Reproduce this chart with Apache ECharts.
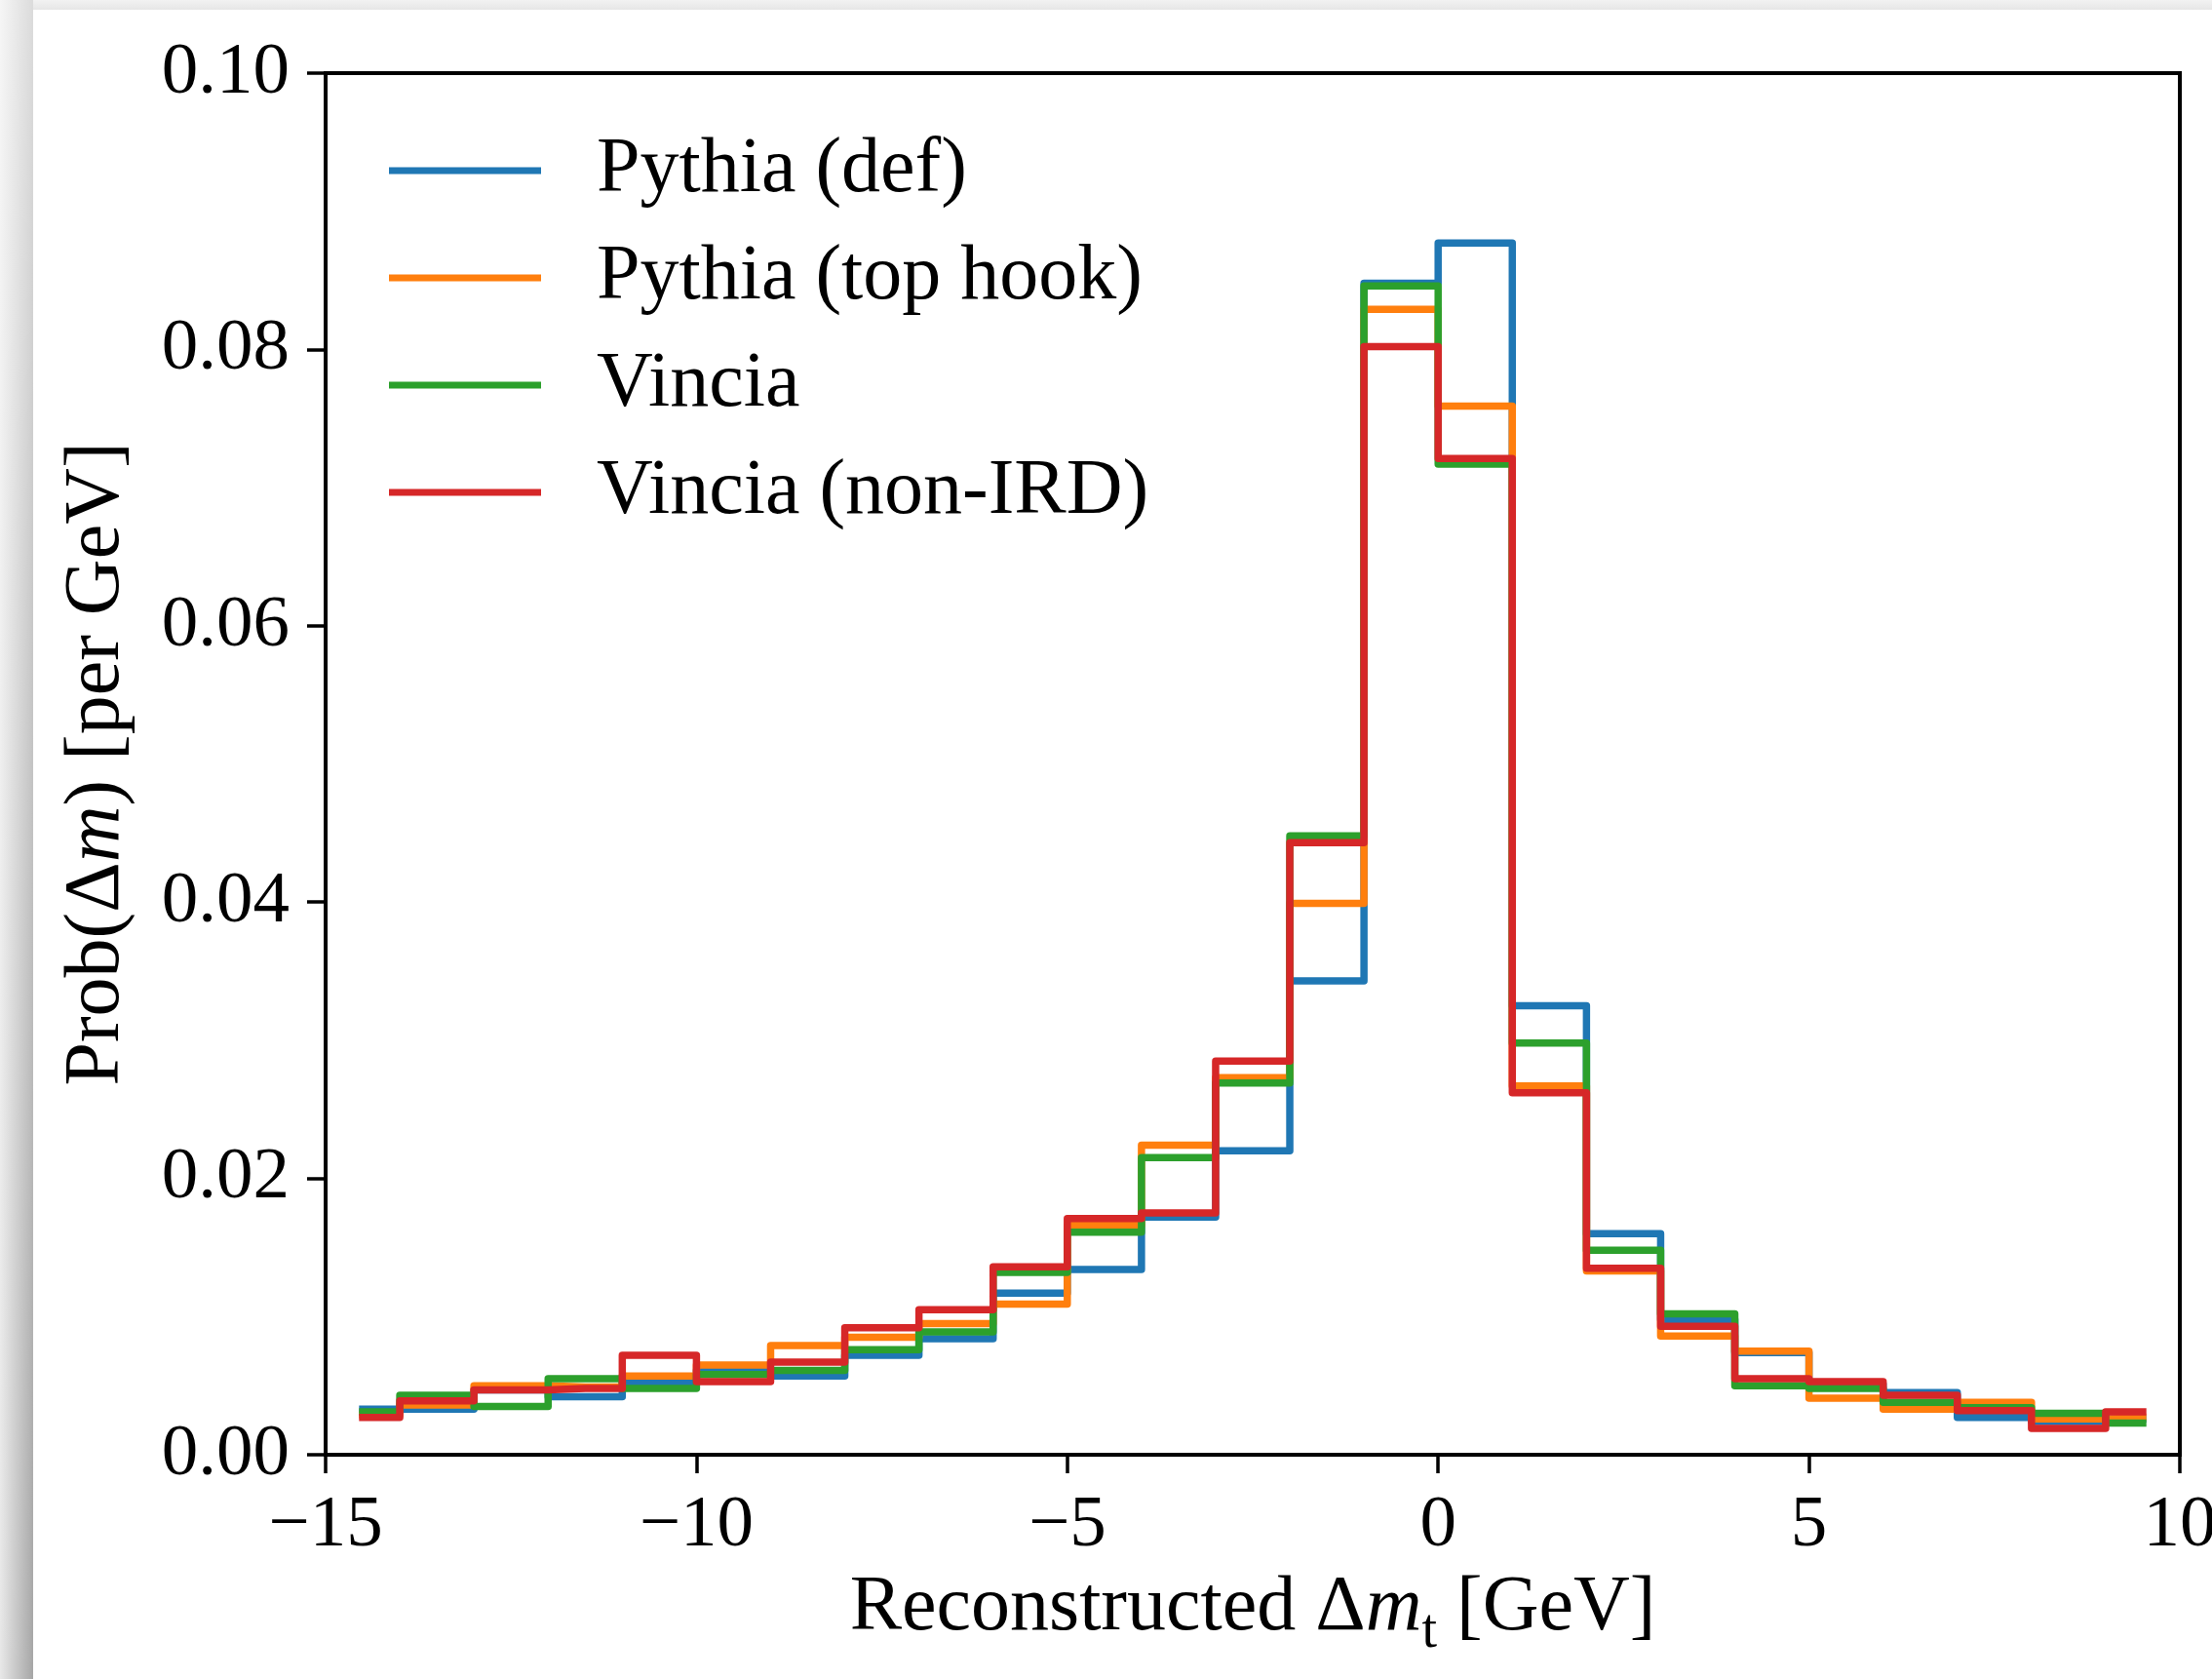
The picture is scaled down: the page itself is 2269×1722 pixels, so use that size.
<!DOCTYPE html>
<html>
<head>
<meta charset="utf-8">
<script src="https://cdn.jsdelivr.net/npm/echarts@6/dist/echarts.min.js"></script>
<style>
  html, body { margin: 0; padding: 0; background: #fff; overflow: hidden; width: 2269px; height: 1722px; }
  #chart { position: absolute; left: 0; top: 0; width: 2269px; height: 1722px; }
  #shadowLeft { position: absolute; left: 0; top: 0; width: 34px; height: 1722px;
    background: linear-gradient(to bottom, rgba(255,255,255,0.6), rgba(255,255,255,0)), linear-gradient(to right, #e8e8e8, #a6a6a6);
    pointer-events: none; }
  #shadowTop { position: absolute; left: 0; top: 0; width: 2269px; height: 10px;
    background: linear-gradient(to bottom, #f2f2f2, #e6e6e6); pointer-events: none; }
</style>
</head>
<body>
<div id="chart"></div>
<div id="shadowTop"></div>
<div id="shadowLeft"></div>
<script>
// Bin centres (GeV); steps happen half-way between centres
const binCenters = [-14.5, -13.5, -12.5, -11.5, -10.5, -9.5, -8.5, -7.5, -6.5, -5.5, -4.5, -3.5, -2.5,
                    -1.5, -0.5, 0.5, 1.5, 2.5, 3.5, 4.5, 5.5, 6.5, 7.5, 8.5, 9.5];

const pythiaDef = [0.0033, 0.0033, 0.0047, 0.0042, 0.0052, 0.0061, 0.0057, 0.0072, 0.0084, 0.0117, 0.0134, 0.0172, 0.0220,
                   0.0343, 0.0848, 0.0877, 0.0325, 0.0160, 0.0098, 0.0074, 0.0051, 0.0045, 0.0027, 0.0024, 0.0026];
const pythiaTopHook = [0.0029, 0.0036, 0.0050, 0.0049, 0.0057, 0.0065, 0.0079, 0.0085, 0.0095, 0.0109, 0.0166, 0.0224, 0.0273,
                       0.0399, 0.0829, 0.0759, 0.0267, 0.0133, 0.0086, 0.0075, 0.0041, 0.0033, 0.0038, 0.0026, 0.0027];
const vincia = [0.0031, 0.0043, 0.0035, 0.0055, 0.0048, 0.0058, 0.0061, 0.0076, 0.0089, 0.0132, 0.0161, 0.0215, 0.0269,
                0.0448, 0.0846, 0.0717, 0.0298, 0.0148, 0.0102, 0.0050, 0.0048, 0.0038, 0.0034, 0.0030, 0.0023];
const vinciaNonIRD = [0.0027, 0.0039, 0.0047, 0.0048, 0.0072, 0.0053, 0.0067, 0.0092, 0.0105, 0.0136, 0.0171, 0.0175, 0.0285,
                      0.0443, 0.0802, 0.0721, 0.0262, 0.0135, 0.0093, 0.0055, 0.0053, 0.0043, 0.0032, 0.0019, 0.0031];

const seriesNames = ['Pythia (def)', 'Pythia (top hook)', 'Vincia', 'Vincia (non-IRD)'];
const seriesColors = ['#1f77b4', '#ff7f0e', '#2ca02c', '#d62728'];
const seriesValues = [pythiaDef, pythiaTopHook, vincia, vinciaNonIRD];

const xTicks = { min: -15, max: 10, interval: 5 };
const yTicks = { min: 0, max: 0.1, interval: 0.02 };

const FONT = '"Liberation Serif", "DejaVu Serif", serif';

const chart = echarts.init(document.getElementById('chart'), null, { renderer: 'canvas', width: 2269, height: 1722 });

const series = seriesValues.map((vals, i) => ({
  name: seriesNames[i],
  type: 'line',
  step: 'middle',
  showSymbol: false,
  symbol: 'none',
  data: binCenters.map((c, k) => [c, vals[k]]),
  lineStyle: { color: seriesColors[i], width: 7.5, cap: 'square', join: 'round' },
  itemStyle: { color: seriesColors[i] },
  z: 2 + i,
  animation: false
}));

const richName = {
  n: { fontFamily: FONT, fontSize: 80, color: '#000', lineHeight: 104, verticalAlign: 'middle' },
  i: { fontFamily: FONT, fontSize: 80, fontStyle: 'italic', color: '#000', lineHeight: 104, verticalAlign: 'middle' },
  s: { fontFamily: FONT, fontSize: 56, color: '#000', lineHeight: 64, verticalAlign: 'bottom' }
};

const option = {
  backgroundColor: '#ffffff',
  animation: false,
  grid: {
    left: 334, right: 33, top: 75, bottom: 230,
    show: true, borderColor: '#000', borderWidth: 4, backgroundColor: 'transparent',
    containLabel: false,
    outerBoundsMode: 'none'
  },
  legend: {
    orient: 'vertical',
    left: 394, top: 130,
    itemWidth: 156, itemHeight: 7,
    itemGap: 30,
    icon: 'rect',
    data: seriesNames.map((n, i) => ({ name: n, icon: 'rect', itemStyle: { color: seriesColors[i] } })),
    textStyle: { fontFamily: FONT, fontSize: 80, color: '#000', lineHeight: 80, padding: [0, 0, 0, 52] }
  },
  xAxis: {
    type: 'value',
    min: xTicks.min, max: xTicks.max, interval: xTicks.interval,
    splitLine: { show: false },
    axisLine: { show: true, onZero: false, lineStyle: { color: '#000', width: 4 } },
    axisTick: { show: true, inside: false, length: 19, lineStyle: { color: '#000', width: 3.5 } },
    axisLabel: {
      show: true, margin: 36, showMaxLabel: true, showMinLabel: true, hideOverlap: false,
      fontFamily: FONT, fontSize: 75, color: '#000',
      formatter: v => (v < 0 ? '\u2212' + Math.abs(v) : String(v))
    },
    name: '{n|Reconstructed Δ}{i|m}{s|t}{n| [GeV]}',
    nameLocation: 'middle',
    nameGap: 106,
    nameTextStyle: { rich: richName }
  },
  yAxis: {
    type: 'value',
    min: yTicks.min, max: yTicks.max, interval: yTicks.interval,
    splitLine: { show: false },
    axisLine: { show: true, onZero: false, lineStyle: { color: '#000', width: 4 } },
    axisTick: { show: true, inside: false, length: 19, lineStyle: { color: '#000', width: 3.5 } },
    axisLabel: {
      show: true, margin: 37, showMaxLabel: true, showMinLabel: true,
      fontFamily: FONT, fontSize: 75, color: '#000',
      formatter: v => v.toFixed(2)
    },
    name: '{n|Prob(Δ}{i|m}{n|) [per GeV]}',
    nameLocation: 'middle',
    nameGap: 182,
    nameTextStyle: { rich: richName }
  },
  series: series
};

chart.setOption(option);
</script>
</body>
</html>
